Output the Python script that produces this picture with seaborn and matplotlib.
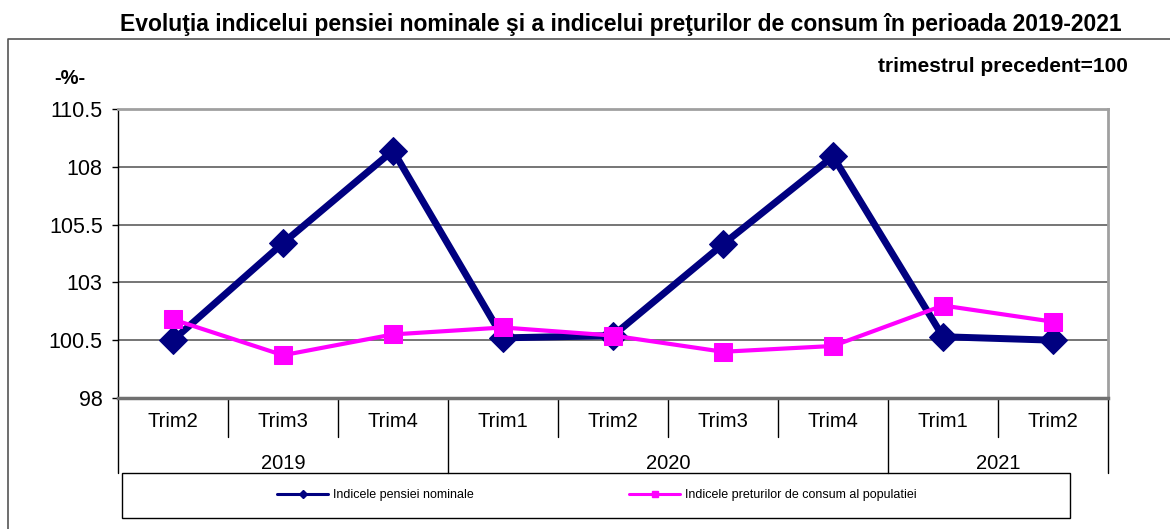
import numpy as np
import pandas as pd
import seaborn as sns
import matplotlib.pyplot as plt
from matplotlib.lines import Line2D
from matplotlib.patches import Rectangle

# date
trims = ["Trim2", "Trim3", "Trim4", "Trim1", "Trim2", "Trim3", "Trim4", "Trim1", "Trim2"]
years = ["2019", "2019", "2019", "2020", "2020", "2020", "2020", "2021", "2021"]
pensie = [100.5, 104.7, 108.7, 100.6, 100.7, 104.65, 108.45, 100.65, 100.5]
preturi = [101.4, 99.85, 100.75, 101.05, 100.7, 100.0, 100.25, 102.0, 101.3]
y_ticks = [98, 100.5, 103, 105.5, 108, 110.5]
y_labels = ["98", "100.5", "103", "105.5", "108", "110.5"]
label_pensie = "Indicele pensiei nominale"
label_preturi = "Indicele preturilor de consum al populatiei"

df = pd.DataFrame({"pos": np.arange(len(trims)), "trim": trims, "an": years,
                   "pensie": pensie, "preturi": preturi})

sns.set_style("white")
plt.rcParams['font.family'] = ['Liberation Sans', 'DejaVu Sans']
plt.rcParams['text.color'] = 'black'
plt.rcParams['xtick.color'] = 'black'
plt.rcParams['ytick.color'] = 'black'

W, H = 1170, 529
fig = plt.figure(figsize=(W / 100, H / 100), dpi=100)
ax = fig.add_axes([118 / W, 1 - 398 / H, 990 / W, 289 / H])

blue = "#000080"
pink = "#FF00FF"
sns.lineplot(data=df, x="pos", y="pensie", color=blue, linewidth=5, marker="D",
             markersize=14, markeredgecolor=blue, ax=ax, zorder=3)
sns.lineplot(data=df, x="pos", y="preturi", color=pink, linewidth=3, marker="s",
             markersize=13, markeredgecolor=pink, ax=ax, zorder=4)

ax.set_xlim(-0.5, len(trims) - 0.5)
ax.set_ylim(98, 110.5)
ax.set_yticks(y_ticks, y_labels)
ax.set_xticks(df["pos"], trims)
ax.set_xlabel("")
ax.set_ylabel("")
ax.tick_params(axis="y", length=4.5, width=1, color="black", labelcolor="black",
               labelsize=15.5, pad=6.5, left=True)
ax.tick_params(axis="x", length=0, labelsize=14.5, labelcolor="black", pad=10)
ax.yaxis.grid(True, color="#6a6a6a", linewidth=1.3)
ax.set_axisbelow(True)
for side in ["top", "right"]:
    ax.spines[side].set_color("#a0a0a0")
    ax.spines[side].set_linewidth(2)
ax.spines["left"].set_color("black")
ax.spines["left"].set_linewidth(1)
ax.spines["bottom"].set_color("#707070")
ax.spines["bottom"].set_linewidth(2.5)

# separatoare categorii si ani
tr = ax.get_xaxis_transform()
for i in range(len(trims) + 1):
    x = i - 0.5
    if i == 0 or i == len(trims) or years[i] != years[i - 1]:
        ax.plot([x, x], [0, -0.26], transform=tr, color="black", lw=1, clip_on=False)
    else:
        ax.plot([x, x], [0, -0.135], transform=tr, color="black", lw=1, clip_on=False)

for an in dict.fromkeys(years):
    center = df.loc[df["an"] == an, "pos"].mean()
    ax.text(center, -0.225, an, transform=tr, ha="center", va="center", fontsize=14.5)

# texte
fig.text(621 / W, 1 - 24 / H, "Evoluţia indicelui pensiei nominale şi a indicelui preţurilor de consum în perioada 2019-2021",
         ha="center", va="center", fontsize=16.5, fontweight="bold")
fig.text(1128 / W, 1 - 66 / H, "trimestrul precedent=100", ha="right", va="center",
         fontsize=15, fontweight="bold")
fig.text(70 / W, 1 - 78 / H, "-%-", ha="center", va="center", fontsize=14.5, fontweight="bold")

# chenar exterior
fig.add_artist(Line2D([8 / W, 8 / W, 1.0], [0.0, 1 - 39 / H, 1 - 39 / H],
                      transform=fig.transFigure, color="#555555", lw=1.2))

# legenda
fig.add_artist(Rectangle((122 / W, 1 - 518 / H), 948 / W, 45 / H, transform=fig.transFigure,
                         fill=False, edgecolor="black", lw=1))
handles = [Line2D([], [], color=blue, lw=2.2, marker="D", markersize=4),
           Line2D([], [], color=pink, lw=2.2, marker="s", markersize=4.5)]
fig.legend(handles, [label_pensie, label_preturi], ncol=2, frameon=False,
           loc="center", bbox_to_anchor=(597 / W, 1 - 495 / H), fontsize=9,
           handlelength=4.1, handletextpad=0.4, columnspacing=12.4)

fig.savefig("out.png", dpi=100)
